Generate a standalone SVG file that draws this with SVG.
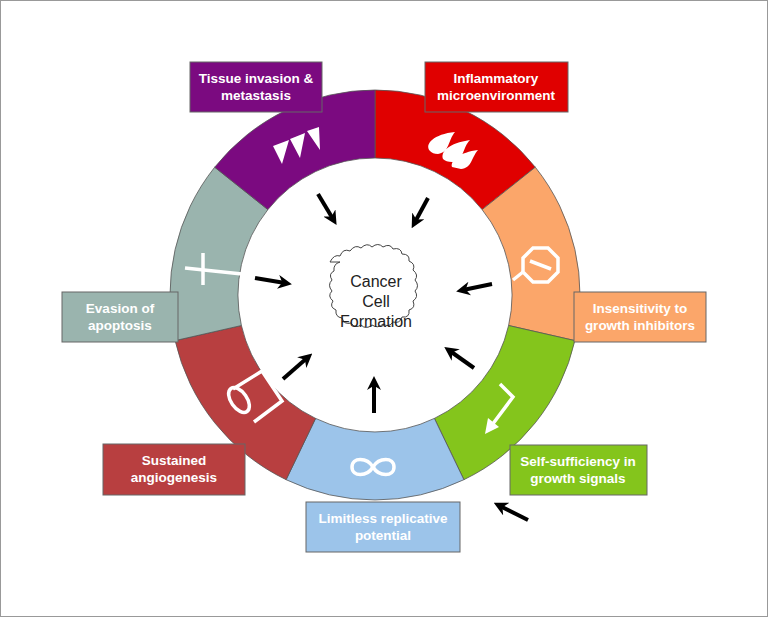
<svg xmlns="http://www.w3.org/2000/svg" width="768" height="617" viewBox="0 0 768 617">
<style>
.seg{stroke:#555;stroke-width:0.8}
.lbl{stroke:#666;stroke-width:1}
.t{font-family:"Liberation Sans",Arial,sans-serif;font-weight:bold;font-size:13.5px;fill:#fff;text-anchor:middle}
.ct{font-family:"Liberation Sans",Arial,sans-serif;font-size:16px;fill:#222;text-anchor:middle}
.ar{stroke:#000;stroke-width:4;marker-end:url(#ah)}
.ic{fill:none;stroke:#fff;stroke-width:3.5}
</style>
<defs>
<marker id="ah" viewBox="0 0 10 10" refX="5" refY="5" markerWidth="3.5" markerHeight="3.5" orient="auto"><path d="M0,0 L10,5 L0,10 L3,5 z" fill="#000"/></marker>
</defs>
<rect x="0.5" y="0.5" width="767" height="616" fill="#fff" stroke="#999"/>
<g id="ring">
<path class="seg" fill="#e00000" d="M375,90 A205,205 0 0 1 535.3,167.2 L482.1,209.6 A137,137 0 0 0 375,158 Z"/>
<path class="seg" fill="#fba66a" d="M535.3,167.2 A205,205 0 0 1 574.9,340.6 L508.6,325.5 A137,137 0 0 0 482.1,209.6 Z"/>
<path class="seg" fill="#84c51c" d="M574.9,340.6 A205,205 0 0 1 463.9,479.7 L434.4,418.4 A137,137 0 0 0 508.6,325.5 Z"/>
<path class="seg" fill="#9cc4ea" d="M463.9,479.7 A205,205 0 0 1 286.1,479.7 L315.6,418.4 A137,137 0 0 0 434.4,418.4 Z"/>
<path class="seg" fill="#b83f40" d="M286.1,479.7 A205,205 0 0 1 175.1,340.6 L241.4,325.5 A137,137 0 0 0 315.6,418.4 Z"/>
<path class="seg" fill="#9ab4ae" d="M175.1,340.6 A205,205 0 0 1 214.7,167.2 L267.9,209.6 A137,137 0 0 0 241.4,325.5 Z"/>
<path class="seg" fill="#7b0a80" d="M214.7,167.2 A205,205 0 0 1 375,90 L375,158 A137,137 0 0 0 267.9,209.6 Z"/>
</g>
<g id="icons">
<path fill="#fff" d="M273,146 L289,140 L282,164 Z M290,139 L305,133 L300,158 Z M307,131 L319,127 L320,150 Z"/>
<path fill="#fff" d="M430,151 C424,144 434,134 455,132 C448,140 450,152 438,154 C434,154 432,153 430,151 Z M443,159 C440,152 449,143 470,140 C462,148 465,160 452,162 C448,162 445,161 443,159 Z M452,167 C450,161 460,152 478,150 C471,158 472,168 461,169 Z"/>
<g class="ic"><polygon points="533,248 548,248 558,258 558,272 548,282 533,282 523,272 523,258"/><line x1="530" y1="261" x2="551" y2="269"/><line x1="523" y1="272" x2="513" y2="280"/></g>
<g class="ic"><path d="M500,384 L513,397 L492,425"/><path fill="#fff" stroke="none" d="M485,434 L488,418 L499,427 Z"/></g>
<path class="ic" d="M352,467 C352,457 367,457 373,467 C379,477 394,477 394,467 C394,457 379,457 373,467 C367,477 352,477 352,467 Z"/>
<g class="ic"><ellipse cx="239" cy="400" rx="8" ry="14" transform="rotate(-35 239 400)"/><path d="M233,389 L262,371 L282,401 L254,422"/></g>
<g class="ic"><line x1="203" y1="253" x2="203" y2="285"/><line x1="185" y1="268" x2="242" y2="274"/></g>
</g>
<g id="center">
<path fill="#fff" stroke="#444" stroke-width="1" d="M330,262 q4,-8 10,-6 q3,-8 10,-5 q5,-7 11,-3 q6,-6 11,-1 q6,-5 11,0 q7,-4 10,2 q8,-2 9,5 q8,0 7,7 q7,3 4,9 q6,5 2,10 q5,6 0,11 q4,6 -2,10 q3,7 -4,9 q1,8 -7,7 q-2,7 -9,5 q-4,6 -10,2 q-5,5 -11,1 q-6,5 -11,0 q-6,4 -10,-2 q-7,2 -9,-5 q-7,-1 -6,-8 q-7,-3 -3,-9 q-6,-5 -1,-10 q-5,-6 0,-11 q-4,-6 2,-9 q-1,-7 6,-9 z"/>
<text class="ct" x="376" y="287">Cancer</text>
<text class="ct" x="376" y="307">Cell</text>
<text class="ct" x="376" y="327">Formation</text>
</g>
<g id="connectors">
<line class="ar" x1="318" y1="194" x2="333" y2="219"/>
<line class="ar" x1="428" y1="198" x2="415" y2="222"/>
<line class="ar" x1="255" y1="278" x2="285" y2="283"/>
<line class="ar" x1="492" y1="284" x2="463" y2="290"/>
<line class="ar" x1="283" y1="379" x2="307" y2="358"/>
<line class="ar" x1="474" y1="368" x2="450" y2="351"/>
<line class="ar" x1="374" y1="413" x2="374" y2="383"/>
<line class="ar" x1="528" y1="520" x2="500" y2="506"/>
</g>
<g id="n-tissue"><rect class="lbl" x="190" y="62" width="132" height="50" fill="#7b0a80"/><text class="t" x="256" y="83">Tissue invasion &amp;</text><text class="t" x="256" y="100">metastasis</text></g>
<g id="n-inflam"><rect class="lbl" x="425" y="62" width="143" height="50" fill="#e00000"/><text class="t" x="496" y="83">Inflammatory</text><text class="t" x="496" y="100">microenvironment</text></g>
<g id="n-evasion"><rect class="lbl" x="62" y="292" width="116" height="50" fill="#9ab4ae"/><text class="t" x="120" y="313">Evasion of</text><text class="t" x="120" y="330">apoptosis</text></g>
<g id="n-insens"><rect class="lbl" x="574" y="292" width="132" height="50" fill="#fba66a"/><text class="t" x="640" y="313">Insensitivity to</text><text class="t" x="640" y="330">growth inhibitors</text></g>
<g id="n-sustained"><rect class="lbl" x="103" y="444" width="142" height="51" fill="#b83f40"/><text class="t" x="174" y="465">Sustained</text><text class="t" x="174" y="482">angiogenesis</text></g>
<g id="n-self"><rect class="lbl" x="510" y="445" width="137" height="50" fill="#84c51c"/><text class="t" x="578" y="466">Self-sufficiency in</text><text class="t" x="578" y="483">growth signals</text></g>
<g id="n-limitless"><rect class="lbl" x="306" y="502" width="154" height="50" fill="#9cc4ea"/><text class="t" x="383" y="523">Limitless replicative</text><text class="t" x="383" y="540">potential</text></g>
</svg>
